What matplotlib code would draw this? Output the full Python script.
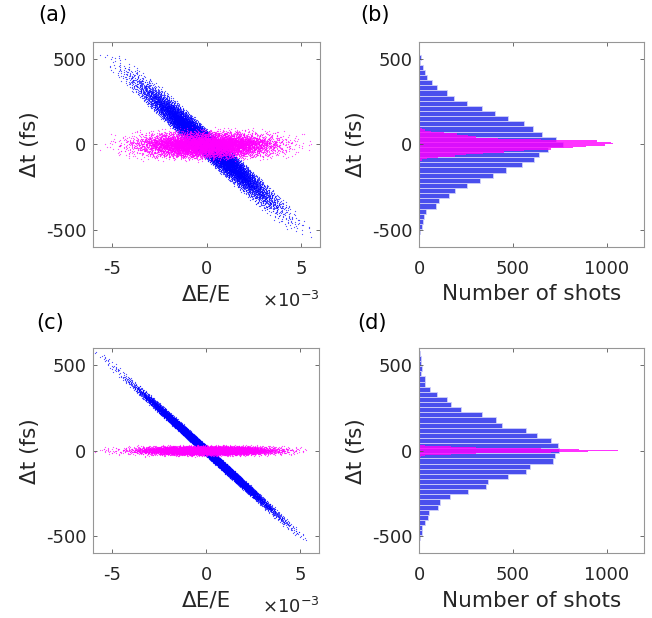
import numpy as np
import matplotlib
matplotlib.use('Agg')
import matplotlib.pyplot as plt

plt.rcParams['font.family'] = ['DejaVu Sans']
plt.rcParams['mathtext.fontset'] = 'dejavusans'

# ---------------- data ----------------
# (b) blue histogram: delta t bin centres (fs), 30 fs bins
blue_b_centers = np.arange(-540, 511, 30)
blue_b_counts = [1, 4, 12, 20, 23, 36, 89, 103, 160, 188,
                 253, 324, 395, 463, 550, 612, 638, 684, 768, 730,
                 652, 608, 560, 473, 402, 335, 257, 183, 149, 96,
                 69, 43, 30, 18, 5, 9]
# (b) magenta histogram: 8 fs bins
mag_b_centers = np.arange(-100, 101, 8)
mag_b_counts = [5, 15, 40, 100, 190, 250, 340, 450, 560, 700,
                820, 890, 990, 1034, 1025, 950, 650, 420, 300, 260,
                200, 130, 60, 30, 15, 5]
# (d) blue histogram: 30 fs bins
blue_d_centers = np.arange(-510, 571, 30)
blue_d_counts = [5, 14, 16, 32, 46, 53, 101, 113, 163, 259,
                 355, 365, 475, 569, 590, 715, 723, 746, 741, 701,
                 629, 569, 443, 408, 335, 223, 170, 147, 94, 59,
                 32, 28, 9, 14, 7, 9, 3]
# (d) magenta histogram: 4 fs bins
mag_d_centers = np.arange(-32, 33, 4)
mag_d_counts = [10, 30, 80, 170, 300, 480, 700, 900, 1060,
                1000, 850, 650, 460, 300, 170, 80, 30]

# chirp slope (fs per 1e-3 of dE/E) and band half-width (1e-3) of the blue scatter
slope_a, halfwidth_a = 102.0, 0.95
slope_c, halfwidth_c = 100.0, 0.35

BLUE_BAR = (0.29, 0.31, 0.93)
BLUE_PT = (0.0, 0.0, 1.0)
MAG = (1.0, 0.0, 1.0)
GRAY = '#262626'
TICK_FS = 13
LABEL_FS = 15.5


def spread(centers, width, counts):
    """each bin's shots placed evenly inside the bin"""
    vals = []
    for c, n in zip(centers, counts):
        if n > 0:
            vals.append(c - width / 2 + width * (np.arange(n) + 0.5) / n)
    return np.concatenate(vals)


def vdc(n, base):
    """van der Corput low-discrepancy sequence (deterministic ordering)"""
    i = np.arange(1, n + 1)
    out = np.zeros(n)
    f = 1.0
    while np.any(i > 0):
        f /= base
        out += f * (i % base)
        i //= base
    return out


def shots(bc, bn, mc, mw, mn, slope, hw):
    dt_sorted = spread(bc, 30, bn)
    n = len(dt_sorted)
    q0, q1, q2 = vdc(n, 2), vdc(n, 3), vdc(n, 5)
    dt_blue = dt_sorted[np.argsort(np.argsort(q0))]
    dev = np.where(q1 < 0.5, np.sqrt(2 * q1) - 1, 1 - np.sqrt(2 - 2 * q1)) * hw
    dE = -dt_blue / slope + dev
    m_sorted = spread(mc, mw, mn)
    idx = np.minimum((q2 * len(m_sorted)).astype(int), len(m_sorted) - 1)
    dt_mag = m_sorted[idx]
    return dE, dt_blue, dt_mag


fig = plt.figure(figsize=(6.52, 6.18), dpi=100)
W, H = 652.0, 618.0


def add_ax(l, t, r, b):
    return fig.add_axes([l / W, 1 - b / H, (r - l) / W, (b - t) / H])


ax_a = add_ax(93.3, 41.7, 320.0, 247.0)
ax_b = add_ax(419.3, 41.7, 644.3, 247.0)
ax_c = add_ax(93.3, 348.3, 319.3, 553.3)
ax_d = add_ax(419.3, 348.3, 644.3, 553.3)


def style(ax):
    for s in ax.spines.values():
        s.set_color('#969696')
        s.set_linewidth(0.8)
    ax.tick_params(direction='in', length=3, width=0.6, color='#555555',
                   top=True, right=True, labelsize=TICK_FS, labelcolor=GRAY)
    ax.tick_params(axis='x', pad=9)
    ax.tick_params(axis='y', pad=5)
    ax.set_ylim(-600, 600)
    ax.set_yticks([-500, 0, 500])
    ax.set_yticklabels(['-500', '0', '500'])
    ax.set_ylabel('\u0394t (fs)', fontsize=LABEL_FS, color=GRAY, labelpad=4)


for ax, bc, bn, mc, mw, mn, sl, hw in [
        (ax_a, blue_b_centers, blue_b_counts, mag_b_centers, 8, mag_b_counts, slope_a, halfwidth_a),
        (ax_c, blue_d_centers, blue_d_counts, mag_d_centers, 4, mag_d_counts, slope_c, halfwidth_c)]:
    dE, dtb, dtm = shots(bc, bn, mc, mw, mn, sl, hw)
    ax.scatter(dE, dtb, s=0.8, marker='o', linewidths=0, color=BLUE_PT, alpha=0.7, rasterized=True)
    ax.scatter(dE, dtm, s=0.8, marker='o', linewidths=0, color=MAG, alpha=0.7, rasterized=True)
    style(ax)
    ax.set_xlim(-6, 6)
    ax.set_xticks([-5, 0, 5])
    ax.set_xticklabels(['-5', '0', '5'])
    ax.set_xlabel('\u0394E/E', fontsize=LABEL_FS, color=GRAY, labelpad=5)
    ax.text(1.0, -0.215, r'$\times10^{-3}$', transform=ax.transAxes, ha='right', va='top',
            fontsize=TICK_FS, color=GRAY)

for ax, bc, bn, mc, mw, mn in [
        (ax_b, blue_b_centers, blue_b_counts, mag_b_centers, 8, mag_b_counts),
        (ax_d, blue_d_centers, blue_d_counts, mag_d_centers, 4, mag_d_counts)]:
    ax.barh(bc, bn, height=30, color=BLUE_BAR, edgecolor='#d0d0fa', linewidth=0.6)
    ax.barh(mc, mn, height=mw, color=MAG, alpha=0.8, linewidth=0)
    style(ax)
    ax.set_xlim(0, 1200)
    ax.set_xticks([0, 500, 1000])
    ax.set_xlabel('Number of shots', fontsize=LABEL_FS, color=GRAY, labelpad=5)

for x, y, s in [(53, 15, '(a)'), (375, 15, '(b)'), (50, 323, '(c)'), (372, 323, '(d)')]:
    fig.text(x / W, 1 - y / H, s, fontsize=15, color='black', ha='center', va='center')

fig.savefig('out.png', dpi=100)
